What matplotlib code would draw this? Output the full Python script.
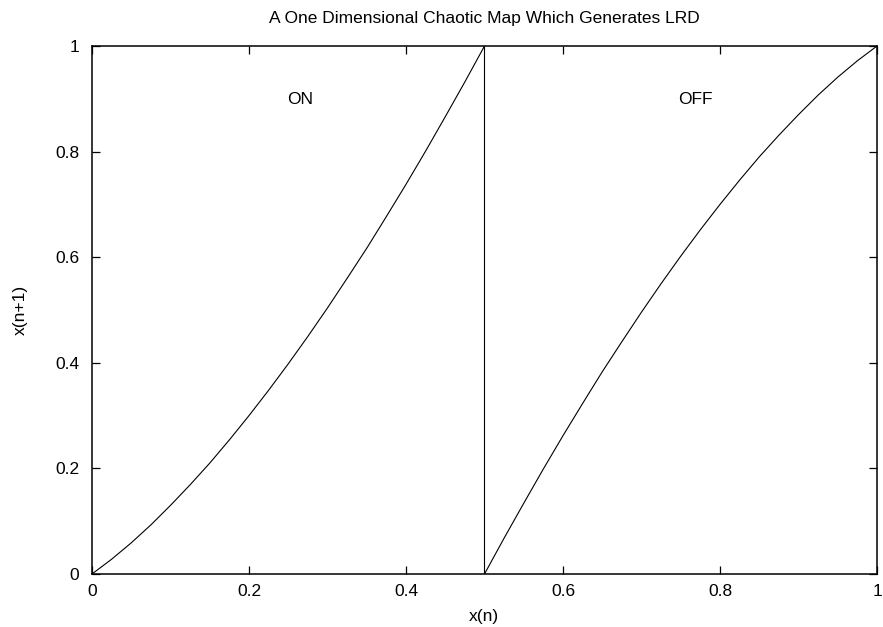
import matplotlib
matplotlib.use("Agg")
import matplotlib.pyplot as plt

# Values
x_on = [0.0, 0.025, 0.05, 0.075, 0.10, 0.125, 0.15, 0.175, 0.20, 0.225, 0.25,
        0.275, 0.30, 0.325, 0.35, 0.375, 0.40, 0.425, 0.45, 0.475, 0.50]
y_on = [0.0, 0.028, 0.059, 0.093, 0.130, 0.169, 0.210, 0.254, 0.300, 0.348, 0.398,
        0.450, 0.504, 0.560, 0.617, 0.677, 0.738, 0.801, 0.866, 0.932, 1.0]
x_off = [0.50, 0.525, 0.55, 0.575, 0.60, 0.625, 0.65, 0.675, 0.70, 0.725, 0.75,
         0.775, 0.80, 0.825, 0.85, 0.875, 0.90, 0.925, 0.95, 0.975, 1.0]
y_off = [0.0, 0.068, 0.134, 0.199, 0.262, 0.323, 0.383, 0.440, 0.496, 0.550, 0.602,
         0.652, 0.700, 0.746, 0.790, 0.831, 0.870, 0.907, 0.941, 0.972, 1.0]
xticks = [0, 0.2, 0.4, 0.6, 0.8, 1]
yticks = [0, 0.2, 0.4, 0.6, 0.8, 1]
tick_labels = ["0", "0.2", "0.4", "0.6", "0.8", "1"]

plt.rcParams['font.family'] = ['Liberation Sans', 'DejaVu Sans']
FS = 12.5

fig = plt.figure(figsize=(8.83, 6.27), dpi=100)
ax = fig.add_axes([92/883, 53/627, 785/883, 528/627])

ax.plot(x_on + x_off, y_on + y_off, color='black', lw=0.8)

ax.set_xlim(0, 1)
ax.set_ylim(0, 1)
ax.set_xticks(xticks)
ax.set_xticklabels(tick_labels)
ax.set_yticks(yticks)
ax.set_yticklabels(tick_labels)
ax.tick_params(direction='in', length=6, width=0.9, top=True, right=True,
               labelsize=FS, colors='black')
ax.tick_params(axis='x', pad=7)
ax.tick_params(axis='y', pad=9)
for s in ax.spines.values():
    s.set_linewidth(1.1)

fig.text(484/883, 1 - 18/627, "A One Dimensional Chaotic Map Which Generates LRD",
         fontsize=FS, ha='center', va='center')
fig.text(484/883, 1 - 616/627, "x(n)", fontsize=FS, ha='center', va='center')
fig.text(20/883, 1 - 310/627, "x(n+1)", fontsize=FS, ha='center', va='center',
         rotation=90)

ax.text(0.265, 0.898, "ON", fontsize=FS, ha='center', va='center')
ax.text(0.769, 0.898, "OFF", fontsize=FS, ha='center', va='center')

fig.savefig("out.png", dpi=100)
